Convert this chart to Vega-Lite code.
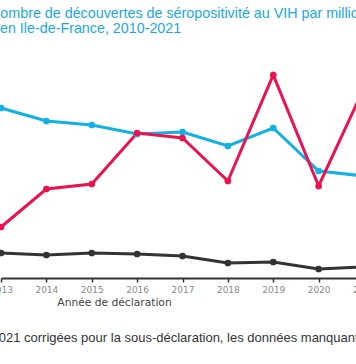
{
  "$schema": "https://vega.github.io/schema/vega-lite/v6.json",
  "width": 363,
  "height": 238,
  "autosize": {"type": "none"},
  "padding": {"left": 1, "top": 40, "right": -8, "bottom": 86},
  "background": "white",
  "config": {"view": {"stroke": null}},
  "title": {
    "text": ["Nombre de découvertes de séropositivité au VIH par million", "\u2800en Ile-de-France, 2010-2021"],
    "anchor": "start",
    "frame": "group",
    "font": "Liberation Sans",
    "fontSize": 14.3,
    "fontWeight": "normal",
    "color": "#1aa9e4",
    "lineHeight": 15,
    "dx": -11
  },
  "data": {
    "values": [
      {"year": 2013, "serie": "cyan", "value": 340},
      {"year": 2014, "serie": "cyan", "value": 314},
      {"year": 2015, "serie": "cyan", "value": 306},
      {"year": 2016, "serie": "cyan", "value": 288},
      {"year": 2017, "serie": "cyan", "value": 292},
      {"year": 2018, "serie": "cyan", "value": 264},
      {"year": 2019, "serie": "cyan", "value": 300},
      {"year": 2020, "serie": "cyan", "value": 214},
      {"year": 2021, "serie": "cyan", "value": 204},
      {"year": 2013, "serie": "rose", "value": 102},
      {"year": 2014, "serie": "rose", "value": 178},
      {"year": 2015, "serie": "rose", "value": 188},
      {"year": 2016, "serie": "rose", "value": 290},
      {"year": 2017, "serie": "rose", "value": 280},
      {"year": 2018, "serie": "rose", "value": 194},
      {"year": 2019, "serie": "rose", "value": 406},
      {"year": 2020, "serie": "rose", "value": 184},
      {"year": 2021, "serie": "rose", "value": 380},
      {"year": 2013, "serie": "noir", "value": 50},
      {"year": 2014, "serie": "noir", "value": 46},
      {"year": 2015, "serie": "noir", "value": 50},
      {"year": 2016, "serie": "noir", "value": 48},
      {"year": 2017, "serie": "noir", "value": 44},
      {"year": 2018, "serie": "noir", "value": 30},
      {"year": 2019, "serie": "noir", "value": 32},
      {"year": 2020, "serie": "noir", "value": 18},
      {"year": 2021, "serie": "noir", "value": 22}
    ]
  },
  "encoding": {
    "y": {"field": "value", "type": "quantitative", "scale": {"domain": [0, 476], "nice": false, "zero": true}, "axis": null},
    "color": {"field": "serie", "type": "nominal", "scale": {"domain": ["cyan", "rose", "noir"], "range": ["#12b1e4", "#ee1150", "#333333"]}, "legend": null}
  },
  "layer": [
    {
      "mark": {"type": "line", "strokeWidth": 3},
      "encoding": {
        "x": {
          "field": "year", "type": "quantitative",
          "scale": {"domain": [2013, 2021], "nice": false, "zero": false},
          "axis": {
            "orient": "bottom",
            "title": "Année de déclaration",
            "values": [2013, 2014, 2015, 2016, 2017, 2018, 2019, 2020, 2021],
            "format": "d",
            "grid": false,
            "labelFlush": false,
            "labelFont": "DejaVu Sans", "labelFontSize": 9, "labelColor": "#8a8a8a", "labelPadding": 3,
            "tickSize": 4, "tickColor": "#333333", "tickWidth": 1.5,
            "domainColor": "#333333", "domainWidth": 2,
            "titleFont": "DejaVu Sans", "titleFontSize": 10.7, "titleFontWeight": "normal", "titleColor": "#444444",
            "titleX": 113, "titleY": 24, "titleBaseline": "middle", "titleAlign": "center"
          }
        }
      }
    },
    {
      "mark": {"type": "point", "filled": true, "size": 45, "opacity": 1},
      "encoding": {"x": {"field": "year", "type": "quantitative", "axis": null}}
    },
    {
      "mark": {"type": "point", "opacity": 0},
      "encoding": {
        "x": {
          "field": "year", "type": "quantitative",
          "axis": {
            "orient": "bottom",
            "title": "2021 corrigées pour la sous-déclaration, les données manquantes",
            "domain": false, "ticks": false, "labels": false, "grid": false,
            "titleFont": "Liberation Sans", "titleFontSize": 13, "titleFontWeight": "normal", "titleColor": "#333333",
            "titleX": -10, "titleY": 59, "titleBaseline": "middle", "titleAlign": "left", "titleAnchor": "start", "titleLimit": 2000
          }
        }
      }
    }
  ],
  "resolve": {"axis": {"x": "independent"}}
}
